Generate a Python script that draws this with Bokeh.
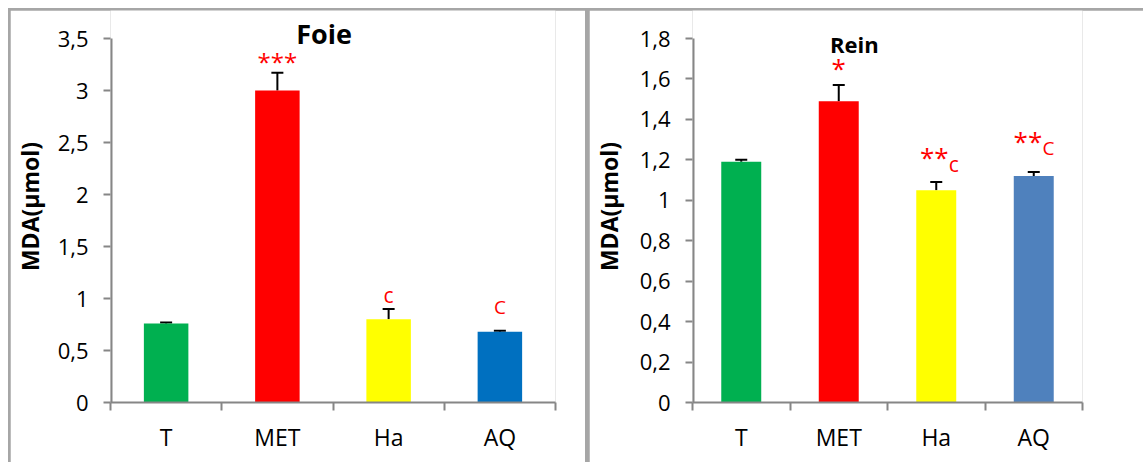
from bokeh.plotting import figure
from bokeh.layouts import row
from bokeh.models import (Range1d, FixedTicker, CustomJSTickFormatter, Whisker,
                          TeeHead, ColumnDataSource, Label)
from bokeh.embed import file_html
from bokeh.resources import INLINE

categories = ["T", "MET", "Ha", "AQ"]
foie_values = [0.76, 3.00, 0.80, 0.68]
foie_errors = [0.01, 0.17, 0.10, 0.01]
rein_values = [1.19, 1.49, 1.05, 1.12]
rein_errors = [0.01, 0.08, 0.04, 0.02]
foie_colors = ["#00B050", "#FF0000", "#FFFF00", "#0070C0"]
rein_colors = ["#00B050", "#FF0000", "#FFFF00", "#4F81BD"]
foie_yticks = [0, 0.5, 1, 1.5, 2, 2.5, 3, 3.5]
rein_yticks = [0, 0.2, 0.4, 0.6, 0.8, 1, 1.2, 1.4, 1.6, 1.8]

FONT = "Open Sans"
AXIS_GRAY = "#868686"
RED = "#FF0000"

HEIGHT = 452
TOP_PAD = 28      # pixels between figure top and the top value of the axis
BOTTOM = 60


def make_panel(values, errors, colors, yticks, ymax, width, mb_left, mb_right,
               bar_width, ylab_standoff):
    n = len(categories)
    xs = [i + 0.5 for i in range(n)]
    frame_h = HEIGHT - BOTTOM
    y_end = ymax * frame_h / (frame_h - TOP_PAD)
    p = figure(width=width, height=HEIGHT, output_backend="svg", toolbar_location=None,
               x_range=Range1d(0, n), y_range=Range1d(0, y_end),
               min_border_left=mb_left, min_border_right=mb_right,
               min_border_top=0, min_border_bottom=BOTTOM)
    p.outline_line_color = None
    p.grid.visible = False
    p.background_fill_color = "white"
    p.border_fill_color = "white"

    src = ColumnDataSource(dict(x=xs, top=values, lower=values,
                                upper=[v + e for v, e in zip(values, errors)],
                                color=colors))
    p.vbar(x="x", top="top", width=bar_width, color="color", line_color=None, source=src)
    p.add_layout(Whisker(source=src, base="x", lower="lower", upper="upper",
                         line_color="black", line_width=2,
                         upper_head=TeeHead(size=12, line_color="black", line_width=2),
                         lower_head=None))

    xa = p.xaxis[0]
    xa.ticker = FixedTicker(ticks=xs, minor_ticks=list(range(n + 1)))
    xa.major_label_overrides = {x: c for x, c in zip(xs, categories)}
    xa.major_tick_line_color = None
    xa.major_tick_out = 0
    xa.major_tick_in = 0
    xa.minor_tick_out = 8
    xa.minor_tick_in = 0
    xa.minor_tick_line_color = AXIS_GRAY
    xa.minor_tick_line_width = 2
    xa.axis_line_color = AXIS_GRAY
    xa.axis_line_width = 2
    xa.major_label_text_font = FONT
    xa.major_label_text_font_size = "23px"
    xa.major_label_text_color = "black"
    xa.major_label_standoff = 10

    ya = p.yaxis[0]
    ya.ticker = FixedTicker(ticks=yticks)
    ya.formatter = CustomJSTickFormatter(
        code="return (Math.round(tick*10)/10).toString().replace('.', ',');")
    ya.axis_line_color = None
    ya.major_tick_line_color = AXIS_GRAY
    ya.major_tick_line_width = 2
    ya.major_tick_out = 7
    ya.major_tick_in = 0
    ya.minor_tick_line_color = None
    ya.major_label_text_font = FONT
    ya.major_label_text_font_size = "22px"
    ya.major_label_text_color = "black"
    ya.major_label_standoff = 15
    ya.axis_label = "MDA(µmol)"
    ya.axis_label_text_font = FONT
    ya.axis_label_text_font_style = "bold"
    ya.axis_label_text_font_size = "23px"
    ya.axis_label_text_color = "black"
    ya.axis_label_standoff = ylab_standoff

    # value axis line, ending at the top tick (half of it is clipped by the frame edge)
    p.segment(x0=[0], y0=[0], x1=[0], y1=[ymax], line_color=AXIS_GRAY, line_width=4)
    return p


def add_text(p, x, y, text, size, color=RED, bold=False):
    p.add_layout(Label(x=x, y=y, text=text, text_color=color, text_font=FONT,
                       text_font_size=size, text_align="center",
                       text_baseline="middle",
                       text_font_style="bold" if bold else "normal"))


p1 = make_panel(foie_values, foie_errors, foie_colors, foie_yticks, 3.5,
                575, 100, 30, 0.40, 9)
add_text(p1, 1.92, 3.55, "Foie", "27px", color="black", bold=True)
add_text(p1, 1.5, 3.28, "***", "24px")
add_text(p1, 2.5, 1.03, "c", "21px")
add_text(p1, 3.5, 0.92, "C", "19px")

p2 = make_panel(rein_values, rein_errors, rein_colors, rein_yticks, 1.8,
                554, 102, 61, 0.41, 12)
add_text(p2, 1.66, 1.775, "Rein", "22px", color="black", bold=True)
add_text(p2, 1.5, 1.655, "*", "26px")
add_text(p2, 2.48, 1.215, "**", "26px")
add_text(p2, 2.68, 1.18, "c", "21px")
add_text(p2, 3.44, 1.295, "**", "26px")
add_text(p2, 3.65, 1.26, "C", "19px")

p1.margin = (2, 4, 0, 2)
p2.margin = (2, 0, 0, 0)
inner = row(p1, p2, styles={"background-color": "#A6A6A6"})
layout = row(inner, margin=(8, 0, 0, 8))

open("out.html", "w").write(file_html(layout, INLINE))
